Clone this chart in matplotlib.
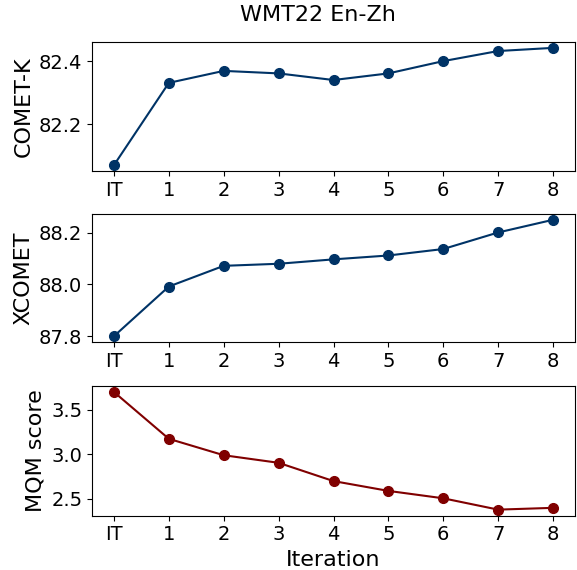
import numpy as np
import matplotlib.pyplot as plt

# data
iterations = ["IT", "1", "2", "3", "4", "5", "6", "7", "8"]
comet_k = [82.071, 82.332, 82.370, 82.362, 82.341, 82.362, 82.401, 82.433, 82.443]
xcomet = [87.800, 87.992, 88.072, 88.080, 88.097, 88.112, 88.137, 88.201, 88.250]
mqm = [3.699, 3.174, 2.990, 2.905, 2.700, 2.590, 2.507, 2.380, 2.400]

blue = "#003366"
red = "#800000"

fig = plt.figure(figsize=(5.77, 5.70), dpi=100)
left, width = 92 / 577, 483 / 577
ax1 = fig.add_axes([left, 0.700, width, 0.2263])
ax2 = fig.add_axes([left, 0.400, width, 0.2246])
ax3 = fig.add_axes([left, 0.0956, width, 0.227])

x = np.arange(len(iterations))
for ax, vals, color, label in [(ax1, comet_k, blue, "COMET-K"),
                               (ax2, xcomet, blue, "XCOMET"),
                               (ax3, mqm, red, "MQM score")]:
    ax.plot(x, vals, marker="o", color=color, linewidth=1.5, markersize=7)
    ax.set_xticks(x)
    ax.set_xticklabels(iterations)
    ax.set_ylabel(label, fontsize=16)
    ax.tick_params(labelsize=14)

ax1.set_yticks([82.2, 82.4])
ax2.set_yticks([87.8, 88.0, 88.2])
ax3.set_yticks([2.5, 3.0, 3.5])
ax3.set_xlabel("Iteration", fontsize=16)

fig.text(318 / 577, 1 - 15 / 570, "WMT22 En-Zh", fontsize=16, ha="center", va="center")

fig.savefig("out.png", dpi=100)
